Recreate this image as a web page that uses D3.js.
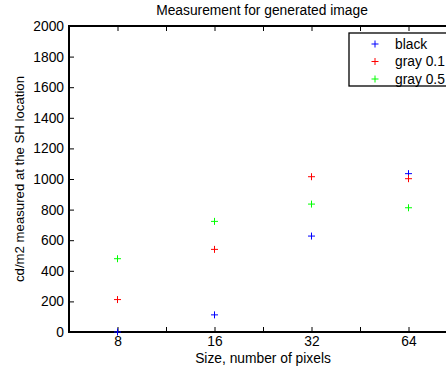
<!DOCTYPE html>
<html>
<head>
<meta charset="utf-8">
<script src="https://cdn.jsdelivr.net/npm/d3@7"></script>
<style>
  body { margin: 0; background: #fff; }
  svg { font-family: "Liberation Sans", Arial, sans-serif; }
</style>
</head>
<body>
<script>
var sizes = ['8', '16', '32', '64'];
var seriesNames = ['black', 'gray 0.1', 'gray 0.5'];
var seriesColors = ['#0000ff', '#ff0000', '#00ff00'];
var blackVals = [0, 112, 627, 1035];
var gray01Vals = [212, 540, 1015, 1002];
var gray05Vals = [479, 723, 836, 812];
var yTicks = [0, 200, 400, 600, 800, 1000, 1200, 1400, 1600, 1800, 2000];

var W = 446, H = 372;
var margin = {top: 26, left: 69, bottom: 40};
var plotRight = 457;
var fontSize = 13.8;

var svg = d3.select('body').append('svg')
  .attr('width', W).attr('height', H);

// x is an index axis, sizes at 1..4, minor ticks every half step
var x = d3.scaleLinear().domain([0.5, 4.5]).range([margin.left, plotRight]);
var y = d3.scaleLinear().domain([0, 2000]).range([H - margin.bottom, margin.top]);

var xTickVals = d3.range(1, 4.51, 0.5);

var plot = svg.append('g');

// frame (right side falls outside the window)
plot.append('rect')
  .attr('x', x(0.5)).attr('y', y(2000))
  .attr('width', x(4.5) - x(0.5)).attr('height', y(0) - y(2000))
  .attr('fill', 'none').attr('stroke', '#000').attr('stroke-width', 2);

var xAxis = svg.append('g')
  .attr('transform', 'translate(0,' + y(0) + ')')
  .call(d3.axisBottom(x).tickValues(xTickVals).tickSizeInner(-5).tickSizeOuter(0)
    .tickFormat(function(d) { return Number.isInteger(d) ? sizes[d - 1] : ''; }));
xAxis.select('.domain').remove();
xAxis.selectAll('text').attr('y', 4).attr('dy', '0.71em').attr('font-size', fontSize)
  .attr('font-family', 'Liberation Sans, Arial, sans-serif');

var xTop = svg.append('g')
  .attr('transform', 'translate(0,' + y(2000) + ')')
  .call(d3.axisTop(x).tickValues(xTickVals).tickSizeInner(-5).tickSizeOuter(0).tickFormat(''));
xTop.select('.domain').remove();

var yAxis = svg.append('g')
  .attr('transform', 'translate(' + x(0.5) + ',0)')
  .call(d3.axisLeft(y).tickValues(yTicks).tickSizeInner(-5).tickSizeOuter(0).tickFormat(d3.format('d')));
yAxis.select('.domain').remove();
yAxis.selectAll('text').attr('x', -5).attr('font-size', fontSize)
  .attr('font-family', 'Liberation Sans, Arial, sans-serif');

// data points as plus markers
var allSeries = [blackVals, gray01Vals, gray05Vals];
var pts = [];
allSeries.forEach(function(vals, si) {
  vals.forEach(function(v, i) { pts.push({s: si, i: i + 1, v: v}); });
});

function plusPath(cx, cy, r) {
  return 'M' + (cx - r) + ',' + cy + 'H' + (cx + r) + 'M' + cx + ',' + (cy - r) + 'V' + (cy + r);
}

svg.append('g').selectAll('path')
  .data(pts)
  .enter()
  .append('path')
  .attr('d', function(d) { return plusPath(x(d.i), y(d.v), 3.5); })
  .attr('stroke', function(d) { return seriesColors[d.s]; })
  .attr('stroke-width', 1)
  .attr('fill', 'none');

// title and labels
svg.append('text')
  .attr('x', 262).attr('y', 15)
  .attr('text-anchor', 'middle').attr('font-size', fontSize)
  .text('Measurement for generated image');

svg.append('text')
  .attr('x', 263).attr('y', 363)
  .attr('text-anchor', 'middle').attr('font-size', fontSize)
  .text('Size, number of pixels');

svg.append('text')
  .attr('transform', 'translate(24,' + ((y(0) + y(2000)) / 2) + ') rotate(-90)')
  .attr('text-anchor', 'middle').attr('font-size', 13.2)
  .text('cd/m2 measured at the SH location');

// legend
var legend = svg.append('g').attr('transform', 'translate(349,33)');
legend.append('rect')
  .attr('width', 110).attr('height', 53)
  .attr('fill', '#fff').attr('stroke', '#000').attr('stroke-width', 1.3);
var rows = legend.selectAll('g.row')
  .data(seriesNames)
  .enter()
  .append('g')
  .attr('class', 'row')
  .attr('transform', function(d, i) { return 'translate(0,' + (11 + i * 17.5) + ')'; });
rows.append('path')
  .attr('d', plusPath(26, 0, 3.5))
  .attr('stroke', function(d, i) { return seriesColors[i]; })
  .attr('fill', 'none');
rows.append('text')
  .attr('x', 46).attr('dy', '0.35em').attr('font-size', fontSize)
  .text(function(d) { return d; });
</script>
</body>
</html>
